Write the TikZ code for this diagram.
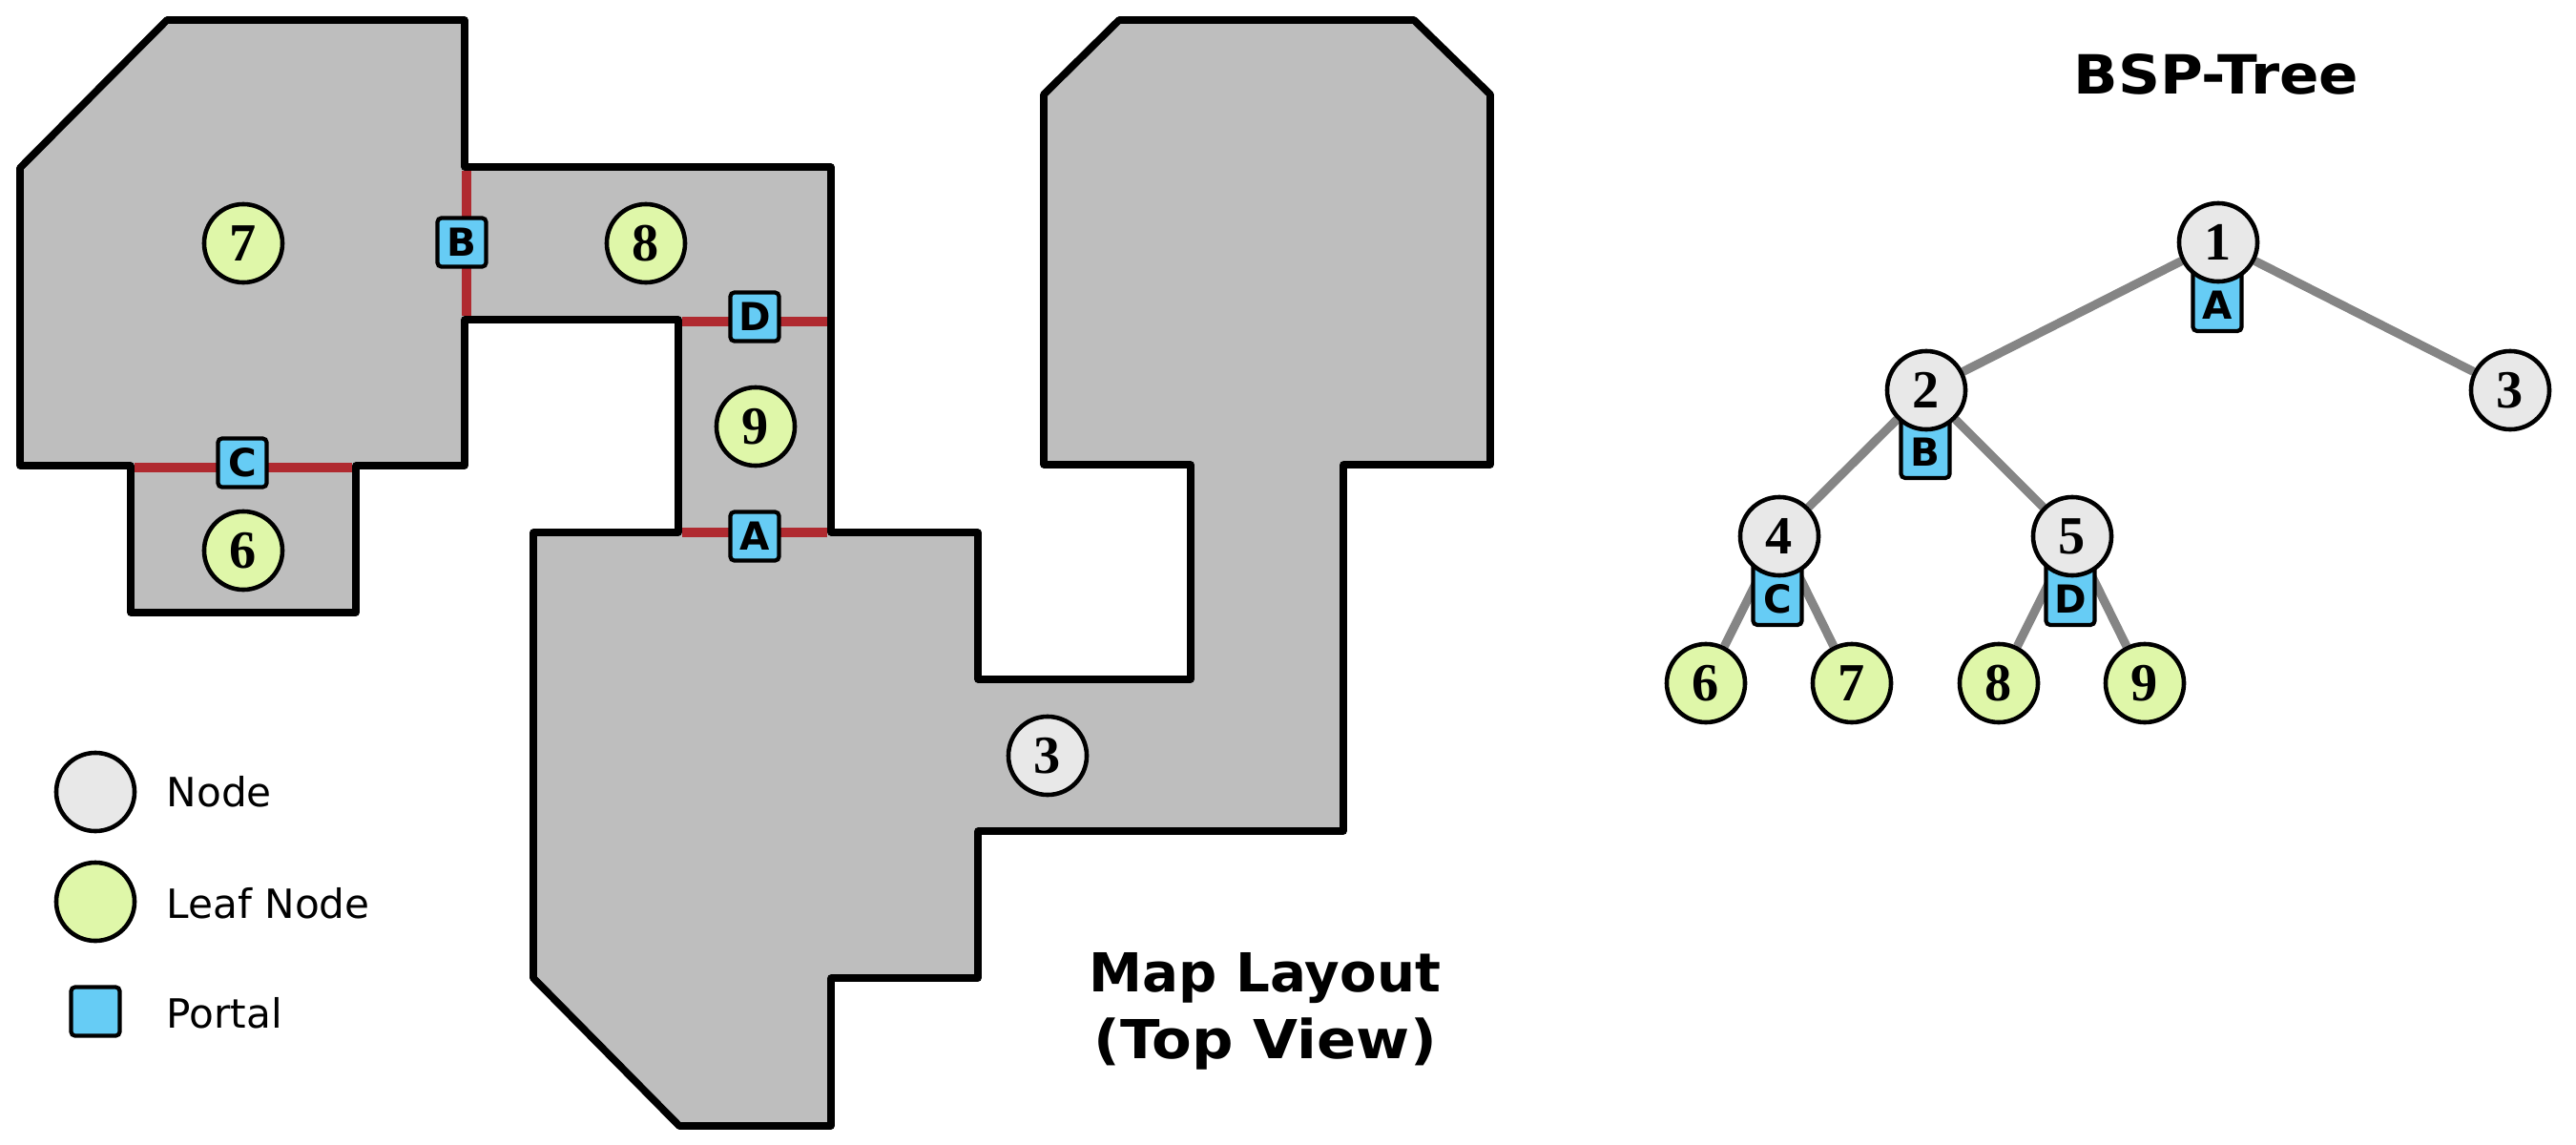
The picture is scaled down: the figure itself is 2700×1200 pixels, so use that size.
\documentclass[tikz,border=0pt]{standalone}
\usepackage{fontspec}
\setmainfont{DejaVu Sans}
\newfontfamily\digitfont{Liberation Serif}
\newfontfamily\widefont{DejaVu Sans}[FakeStretch=1.08]
\usetikzlibrary{backgrounds}
\definecolor{roomgray}{HTML}{BEBEBE}
\definecolor{doorred}{HTML}{B02A30}
\definecolor{nodegray}{HTML}{E8E8E8}
\definecolor{leafgreen}{HTML}{DFF7A9}
\definecolor{portalblue}{HTML}{66CCF5}
\definecolor{edgegray}{HTML}{858585}
\tikzset{
   room/.style={draw=black, fill=roomgray, line width=2.2pt, line join=round},
   door/.style={draw=doorred, line width=2.8pt},
   treenode/.style={circle, draw=black, line width=1.3pt, fill=nodegray, minimum size=0.82cm, inner sep=0pt,
      font=\digitfont\bfseries\fontsize{16}{16}\selectfont},
   leafnode/.style={treenode, fill=leafgreen},
   portal/.style={rectangle, rounded corners=1.2pt, draw=black, line width=1.2pt, fill=portalblue,
      minimum size=0.51cm, inner sep=0pt, font=\bfseries\fontsize{11.5}{12}\selectfont},
   treeportal/.style={portal, anchor=south, minimum height=0pt, inner ysep=0.125cm, text height=0.46cm, text depth=0pt},
   edge/.style={draw=edgegray, line width=2.6pt},
   legendtext/.style={anchor=west, inner sep=0pt, font=\fontsize{12}{14}\selectfont},
   heading/.style={align=center, font=\bfseries\fontsize{16}{19.8}\selectfont}
}
\begin{document}
\begin{tikzpicture}[x=0.01cm, y=-0.01cm]
   \useasboundingbox (0,0) rectangle (2700,1200);
   % map outline
   \draw[room] (21,176) -- (175,21) -- (487,21) -- (487,175) -- (871,175) -- (871,558) -- (1025,558)
      -- (1025,712) -- (1248,712) -- (1248,487) -- (1094,487) -- (1094,99) -- (1173,21) -- (1482,21)
      -- (1562,99) -- (1562,487) -- (1408,487) -- (1408,871) -- (1025,871) -- (1025,1025) -- (871,1025)
      -- (871,1180) -- (712,1180) -- (559,1025) -- (559,558) -- (711,558) -- (711,335) -- (487,335)
      -- (487,488) -- (373,488) -- (373,642) -- (137,642) -- (137,488) -- (21,488) -- cycle;
   \draw[door] (489,179) -- (489,331);
   \draw[door] (715,337) -- (867,337);
   \draw[door] (141,490) -- (369,490);
   \draw[door] (715,558) -- (867,558);
   % map portals
   \node[portal] (mapA) at (791,562) {A};
   \node[portal] (mapB) at (484,254) {B};
   \node[portal] (mapC) at (254,485) {C};
   \node[portal] (mapD) at (791,332) {D};
   % map nodes
   \node[treenode] (map3) at (1098,792) {3};
   \node[leafnode] (map6) at (255,577) {6};
   \node[leafnode] (map7) at (255,255) {7};
   \node[leafnode] (map8) at (677,255) {8};
   \node[leafnode] (map9) at (792,447) {9};
   % tree portals
   \node[treeportal] (treeA) at (2324,349) {A};
   \node[treeportal] (treeB) at (2018,503) {B};
   \node[treeportal] (treeC) at (1863,657) {C};
   \node[treeportal] (treeD) at (2170,657) {D};
   % tree nodes
   \node[treenode] (n1) at (2325,254) {1};
   \node[treenode] (n2) at (2019,409) {2};
   \node[treenode] (n3) at (2631,409) {3};
   \node[treenode] (n4) at (1865,562) {4};
   \node[treenode] (n5) at (2172,562) {5};
   \node[leafnode] (n6) at (1788,716) {6};
   \node[leafnode] (n7) at (1941,716) {7};
   \node[leafnode] (n8) at (2095,716) {8};
   \node[leafnode] (n9) at (2248,716) {9};
   \begin{scope}[on background layer]
      \draw[edge] (n1) -- (n2);
      \draw[edge] (n1) -- (n3);
      \draw[edge] (n2) -- (n4);
      \draw[edge] (n2) -- (n5);
      \draw[edge] (n4) -- (n6);
      \draw[edge] (n4) -- (n7);
      \draw[edge] (n5) -- (n8);
      \draw[edge] (n5) -- (n9);
   \end{scope}
   % legend
   \node[treenode] (keyNode) at (100,830) {};
   \node[leafnode] (keyLeaf) at (100,945) {};
   \node[portal] (keyPortal) at (100,1060) {};
   \node[legendtext] (textNode) at (174,830) {Node};
   \node[legendtext] (textLeaf) at (174,947) {Leaf Node};
   \node[legendtext] (textPortal) at (174,1062) {Portal};
   % titles
   \node[heading, font=\widefont\bfseries\fontsize{16.1}{19.8}\selectfont] (treeTitle) at (2323,78) {BSP-Tree};
   \node[heading] (mapTitle) at (1326,1060) {Map Layout\\{\widefont\bfseries (Top View)}};
\end{tikzpicture}
\end{document}
